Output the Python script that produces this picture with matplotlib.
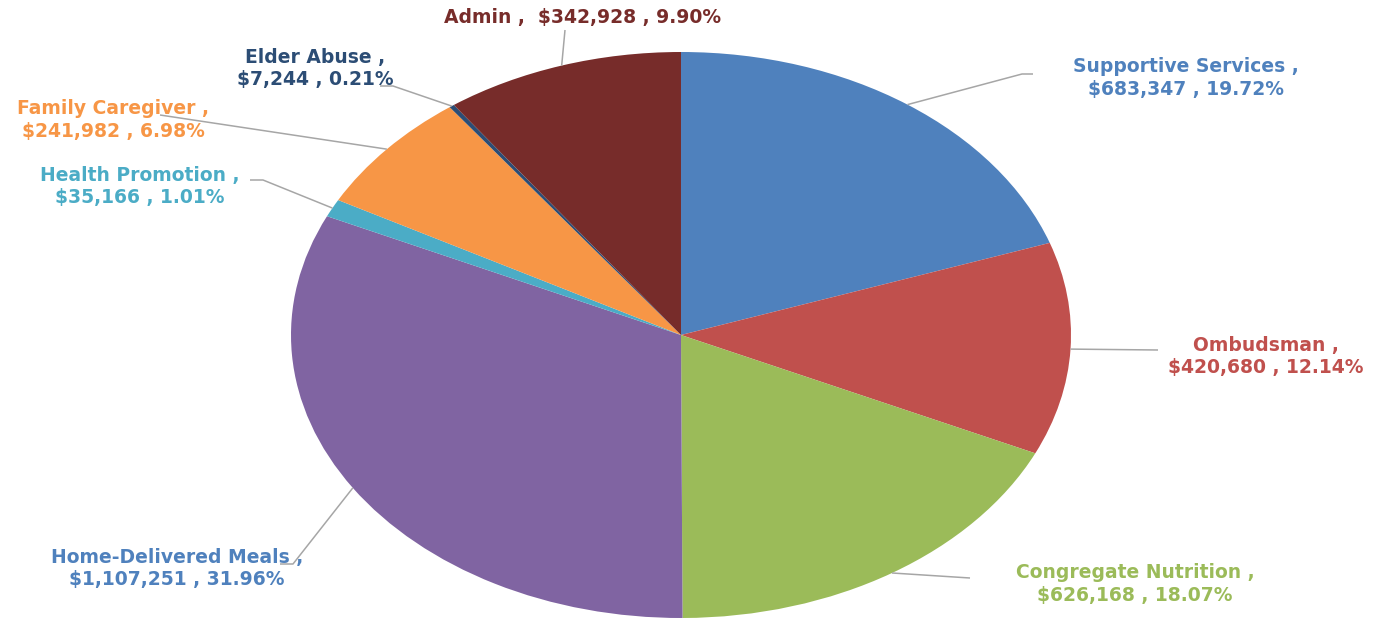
# ===============================
# Imports
# ===============================
import numpy as np
import matplotlib
matplotlib.use("Agg")
import matplotlib.pyplot as plt

# ===============================
# Data
# ===============================
categories = ["Supportive Services", "Ombudsman", "Congregate Nutrition",
              "Home-Delivered Meals", "Health Promotion", "Family Caregiver",
              "Elder Abuse", "Admin"]
amounts = [683347, 420680, 626168, 1107251, 35166, 241982, 7244, 342928]
percents = ["19.72%", "12.14%", "18.07%", "31.96%", "1.01%", "6.98%", "0.21%", "9.90%"]
money = ["$683,347", "$420,680", "$626,168", "$1,107,251", "$35,166",
         "$241,982", "$7,244", "$342,928"]

slice_colors = ["#4F81BD", "#C0504D", "#9BBB59", "#8064A2",
                "#4BACC6", "#F79646", "#2C4D75", "#772C2A"]
text_colors = ["#4F81BD", "#C0504D", "#9BBB59", "#4F81BD",
               "#4BACC6", "#F79646", "#2C4D75", "#772C2A"]

# label layout in pixels: (text centre, elbow point, line end)
label_text = [(1186, 78), (1266, 356), (1135, 584), (177, 568),
              (140, 186), (113, 120), (315, 68), (583, 17)]
label_elbow = [(1022, 74), (1158, 350), (970, 578), (293, 564),
               (263, 180), (160, 115), (393, 86), (565, 30)]
label_end = [(1033, 74), (1158, 350), (970, 578), (280, 564),
             (250, 180), (160, 115), (380, 86), (565, 30)]
one_line = [False, False, False, False, False, False, False, True]

# ===============================
# Geometry (pixel -> data)
# ===============================
W, H = 1375, 618
cx, cy, rx, ry = 681, 335, 390, 283


def to_data(px, py):
    return (px - cx) / rx, (cy - py) / ry


# ===============================
# Plot
# ===============================
fig = plt.figure(figsize=(W / 100, H / 100), dpi=100)
ax = fig.add_axes([0, 0, 1, 1])

wedges, _ = ax.pie(amounts, colors=slice_colors, startangle=90,
                   counterclock=False, wedgeprops=dict(linewidth=0))
ax.set_aspect("auto")
ax.set_xlim(-cx / rx, (W - cx) / rx)
ax.set_ylim((cy - H) / ry, cy / ry)
ax.axis("off")

for i, w in enumerate(wedges):
    mid = np.deg2rad((w.theta1 + w.theta2) / 2)
    sx, sy = np.cos(mid), np.sin(mid)
    ex, ey = to_data(*label_elbow[i])
    fx, fy = to_data(*label_end[i])
    ax.plot([sx, ex, fx], [sy, ey, fy], color="#A6A6A6", lw=1.1,
            solid_capstyle="butt")
    if one_line[i]:
        txt = f"{categories[i]} ,  {money[i]} , {percents[i]}"
    else:
        txt = f"{categories[i]} ,\n{money[i]} , {percents[i]}"
    tx, ty = to_data(*label_text[i])
    ax.text(tx, ty, txt, ha="center", va="center", color=text_colors[i],
            fontsize=13.5, fontweight="bold", family="DejaVu Sans",
            linespacing=1.2)

fig.savefig("out.png", dpi=100)
